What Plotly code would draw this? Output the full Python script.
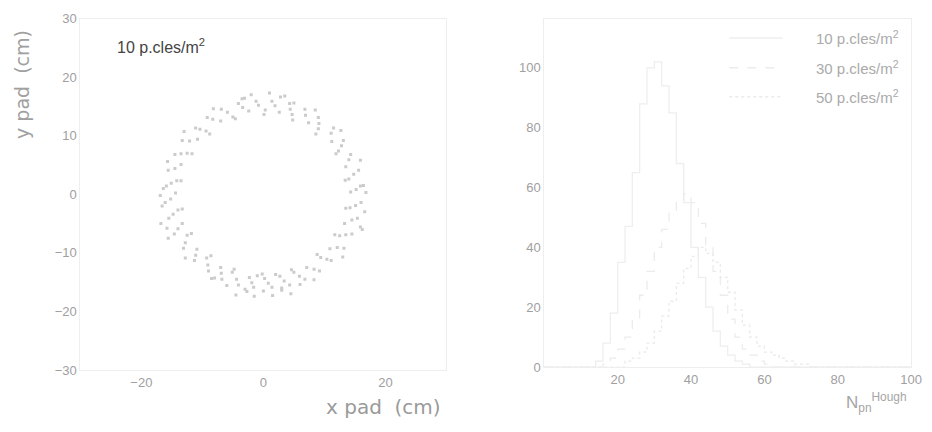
import plotly.graph_objects as go

# ---------------- data ----------------
# Left panel: pad hits forming the ring (cm)
x_pad = [
    14.3, 14.0, 13.5, 12.3, 11.2, 9.0, 7.4, 4.7, 2.6, 0.3, -2.4, -5.0, -7.0, -9.4, -10.8, -12.5, -13.5, -14.2,
    -14.4, -14.0, -13.3, -12.5, -10.9, -9.3, -7.0, -5.1, -2.3, 0.2, 2.7, 5.0, 7.1, 9.4, 10.9, 12.5, 13.3, 14.2,
    15.9, 15.6, 14.3, 13.1, 11.5, 9.0, 6.8, 4.3, 1.4, -1.2, -4.1, -6.9, -9.2, -11.1, -13.3, -14.5, -15.6, -15.9,
    -16.1, -15.5, -14.6, -13.1, -11.3, -9.0, -6.8, -4.1, -1.6, 1.4, 4.3, 6.8, 9.2, 11.1, 13.2, 14.5, 15.4, 16.0,
    15.2, 14.8, 14.0, 12.8, 11.1, 9.1, 6.9, 4.4, 1.9, -0.8, -3.4, -5.9, -8.3, -10.4, -12.1, -13.5, -14.5, -15.1,
    -15.2, -14.8, -14.0, -12.8, -11.1, -9.1, -6.9, -4.4, -1.9, 0.8, 3.4, 5.9, 8.3, 10.4, 12.1, 13.5, 14.5, 15.1,
    -6.0, -3.0, 0.0, 3.0, 6.0, -4.5, -1.5, 1.5, 4.5, -8.0, -1.0, 2.0,
    -2.0, 1.0, 3.5, -3.5, 5.0, -16.6, -16.4, -16.8, -15.6, 16.4, 16.6, 16.2,
    16.8, 15.9, 12.7, 8.5, 2.8, -3.1, -8.2, -13.0, -15.7, -16.9, -15.8, -12.8, -8.5, -2.7, 3.0, 8.3, 13.0, 15.9,
    13.4, 11.9, 8.6, 4.8, 0.1, -4.6, -8.8, -11.7, -13.5, -13.3, -11.8, -8.6, -4.8, -0.2, 4.6, 8.8, 11.7, 13.5,
]
y_pad = [
    0.4, 2.6, 4.7, 7.4, 9.0, 11.2, 12.2, 13.6, 14.0, 14.4, 14.2, 13.2, 12.5, 10.8, 9.4, 7.0, 5.1, 2.3,
    0.2, -2.7, -5.0, -7.0, -9.4, -10.9, -12.5, -13.3, -14.2, -14.4, -14.0, -13.3, -12.5, -10.8, -9.3, -7.1, -5.0, -2.3,
    1.4, 4.1, 6.8, 9.2, 11.3, 13.1, 14.5, 15.5, 15.9, 15.9, 15.5, 14.5, 13.1, 11.3, 9.2, 6.8, 4.1, 1.4,
    -1.4, -4.1, -6.8, -9.2, -11.3, -13.1, -14.5, -15.5, -15.9, -15.9, -15.5, -14.5, -13.1, -11.3, -9.2, -6.8, -4.1, -1.4,
    0.8, 3.4, 5.9, 8.3, 10.4, 12.1, 13.5, 14.5, 15.1, 15.2, 14.8, 14.0, 12.8, 11.1, 9.1, 6.9, 4.4, 1.9,
    -0.8, -3.4, -5.9, -8.3, -10.4, -12.1, -13.5, -14.5, -15.1, -15.2, -14.8, -14.0, -12.8, -11.1, -9.1, -6.9, -4.4, -1.9,
    -15.6, -16.2, -16.5, -16.0, -15.4, -17.2, -17.4, -17.3, -17.0, -14.3, -13.9, -13.7,
    17.0, 17.3, 16.8, 16.3, 15.6, -2.0, 1.0, -5.0, -7.5, 1.5, -3.0, -6.0,
    0.3, 5.8, 10.9, 14.4, 16.6, 16.4, 14.6, 10.7, 5.6, -0.2, -5.8, -10.9, -14.4, -16.6, -16.4, -14.6, -10.7, -5.6,
    2.4, 6.9, 10.3, 12.7, 13.6, 12.9, 10.3, 6.9, 2.3, -2.5, -6.7, -10.5, -12.8, -13.6, -12.9, -10.3, -6.9, -2.4,
]

# Right panel: histograms of N_pn^Hough (bin width 2, left edges 0..98)
bin_edges = list(range(0, 100, 2))
counts_10 = [0, 0, 0, 0, 0, 0, 0,
             2, 8, 18, 35, 47, 65, 88, 100, 102, 94, 85, 68, 55, 40, 30, 20, 12, 7, 4, 2, 1,
             0, 0, 0, 0, 0, 0, 0, 0, 0, 0, 0, 0, 0, 0, 0, 0, 0, 0, 0, 0, 0, 0]
counts_30 = [0, 0, 0, 0, 0, 0, 0, 0,
             1, 3, 6, 10, 16, 24, 32, 40, 46, 52, 56, 58, 55, 48, 40, 32, 24, 16, 10, 6, 4, 2, 1,
             0, 0, 0, 0, 0, 0, 0, 0, 0, 0, 0, 0, 0, 0, 0, 0, 0, 0, 0]
counts_50 = [0, 0, 0, 0, 0, 0, 0, 0, 0, 0, 0,
             2, 3, 5, 8, 12, 17, 22, 28, 33, 37, 40, 38, 35, 30, 25, 19, 14, 10, 7, 5, 4, 3, 2, 1, 1,
             0, 0, 0, 0, 0, 0, 0, 0, 0, 0, 0, 0, 0, 0]
series_names = ["10 p.cles/m²", "30 p.cles/m²", "50 p.cles/m²"]

left_y_ticks = [30, 20, 10, 0, -10, -20, -30]
left_x_ticks = [-20, 0, 20]
right_x_ticks = [20, 40, 60, 80, 100]
right_y_ticks = [0, 20, 40, 60, 80, 100]

# ---------------- layout helpers (page pixels -> paper fractions) ----------------
W, H = 932, 432


def px(p):
    return p / W


def py(p):
    return 1 - p / H


# ---------------- figure ----------------
fig = go.Figure()

fig.add_trace(go.Scatter(
    x=x_pad, y=y_pad, mode="markers",
    marker=dict(symbol="square", size=3, color="#cbcbcb"),
    xaxis="x", yaxis="y", showlegend=False,
))

line_colors = ["#eeeeee", "#ececec", "#eaeaea"]
line_dashes = ["solid", "dash", "dot"]
for name, counts, col, dash in zip(series_names, [counts_10, counts_30, counts_50], line_colors, line_dashes):
    xs = bin_edges + [100]
    ys = counts + [counts[-1]]
    fig.add_trace(go.Scatter(
        x=xs, y=ys, mode="lines", line=dict(shape="hv", color=col, width=1.3, dash=dash),
        name=name, xaxis="x2", yaxis="y2", showlegend=False,
    ))

tick_font = dict(family="Liberation Sans, Arial, sans-serif", size=13, color="#a0a0a0")
axis_common = dict(showgrid=False, zeroline=False, showline=True, linecolor="#eeeeee",
                   mirror=True, ticks="", tickfont=tick_font, ticklabeloverflow="allow")

fig.update_layout(
    width=W, height=H,
    paper_bgcolor="white", plot_bgcolor="white",
    margin=dict(l=0, r=0, t=0, b=0),
    xaxis=dict(domain=[px(81.3), px(451.8)], range=[-30, 30], tickvals=left_x_ticks,
               anchor="y", **axis_common),
    yaxis=dict(domain=[py(376), py(12)], range=[-30, 30], tickvals=left_y_ticks, anchor="x", **axis_common),
    xaxis2=dict(domain=[px(550.8), px(922)], range=[0, 100], tickvals=right_x_ticks,
                anchor="y2", **axis_common),
    yaxis2=dict(domain=[py(373), py(12)], range=[0, 116.5], tickvals=right_y_ticks, anchor="x2", **axis_common),
    showlegend=False,
    hovermode=False,
)

annotations = [
    dict(text="10 p.cles/m<sup>2</sup>", x=px(116), y=py(40), xanchor="left", yanchor="middle",
         font=dict(family="Liberation Sans, Arial, sans-serif", size=16, color="#444444")),
    dict(text="x pad  (cm)", x=px(448), y=py(414), xanchor="right", yanchor="middle",
         font=dict(family="DejaVu Sans, sans-serif", size=20, color="#9a9a9a")),
    dict(text="y pad  (cm)", x=px(22), y=py(80), xanchor="center", yanchor="middle", textangle=-90,
         font=dict(family="DejaVu Sans, sans-serif", size=19, color="#a0a0a0")),
    dict(text="N<sub>pn</sub><sup>Hough</sup>", x=px(920), y=py(410), xanchor="right", yanchor="middle",
         font=dict(family="Liberation Sans, Arial, sans-serif", size=17, color="#a5a5a5")),
]
legend_rows = [32, 63, 93]
shapes = []
for name, row, col, dash in zip(series_names, legend_rows, line_colors, line_dashes):
    annotations.append(dict(text=name.replace("²", "<sup>2</sup>"), x=px(912), y=py(row),
                            xanchor="right", yanchor="middle",
                            font=dict(family="Liberation Sans, Arial, sans-serif", size=15, color="#aaaaaa")))
    shapes.append(dict(type="line", xref="paper", yref="paper", x0=px(738), x1=px(792),
                       y0=py(row), y1=py(row), line=dict(color=col, width=1.5, dash=dash)))
for a in annotations:
    a.update(xref="paper", yref="paper", showarrow=False)
fig.update_layout(annotations=annotations, shapes=shapes)

fig.write_html(
    "out.html",
    config={"displayModeBar": False},
    post_script="document.body.style.margin='0';document.body.style.overflow='hidden';",
)
